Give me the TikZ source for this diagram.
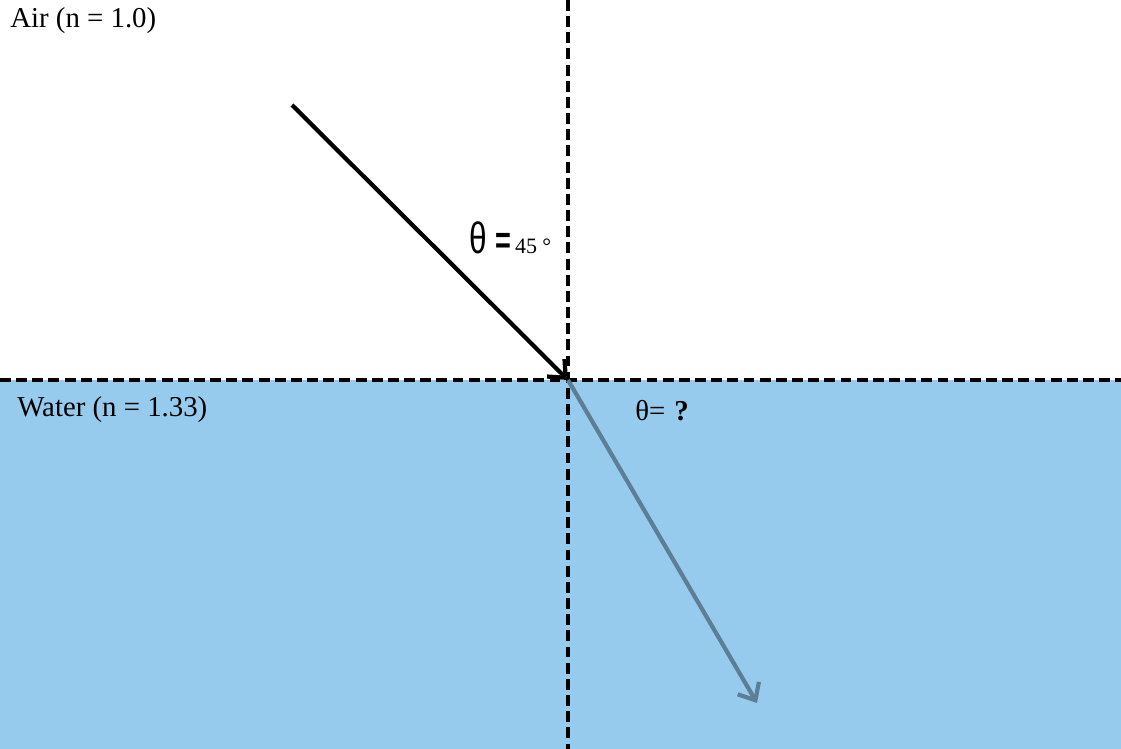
\documentclass[tikz,border=0pt]{standalone}
\usepackage{fontspec}
\setmainfont{Liberation Serif}
\newfontfamily\bigsans{Liberation Sans}
\usetikzlibrary{arrows.meta}
\definecolor{waterblue}{RGB}{151,203,238}
\definecolor{raygray}{RGB}{92,127,150}

\begin{document}
\begin{tikzpicture}[x=0.02cm,y=-0.02cm,
    normal/.style={line width=2.4pt,dash pattern=on 6.2pt off 3pt},
    ray/.style={line width=2.4pt,-{Straight Barb[length=8pt,width=14pt,line width=2.4pt]}},
    lbl/.style={font=\fontsize{16.4}{18}\selectfont,inner sep=0pt}]
      \useasboundingbox (0,0) rectangle (1121,749);
      % water below the surface
      \fill[waterblue] (0,380) rectangle (1121,749);
      \coordinate (O) at (568,380);
      \coordinate (top) at (568,0);
      \coordinate (bot) at (568,749);
      \coordinate (left) at (0,380);
      \coordinate (right) at (1121,380);
      \coordinate (src) at (292,105);
      \coordinate (dst) at (757,703);
      % surface and normal
      \draw[normal] (left) -- (right);
      \draw[normal] (top) -- (bot);
      % incident and refracted rays
      \draw[ray,black] (src) -- (O);
      \draw[ray,raygray] (O) -- (dst);
      % media
      \node[lbl,anchor=west] (air) at (10,21) {Air (n = 1.0)};
      \node[lbl,anchor=west] (water) at (17,410) {Water (n = 1.33)};
      % angles
      \node[inner sep=0pt,anchor=base west] (inc) at (469,254)
        {{\bigsans\fontsize{25}{30}\selectfont\scalebox{0.72}[1]{θ}}\hspace{5pt}%
         {\bigsans\bfseries\fontsize{22}{24}\selectfont\scalebox{0.7}[1]{=}}\hspace{2pt}%
         \fontsize{12.5}{14}\selectfont 45 °};
      \node[lbl,anchor=west] (ref) at (635,411) {θ= \hspace{1pt}\textbf{?}};
    \end{tikzpicture}
\end{document}
